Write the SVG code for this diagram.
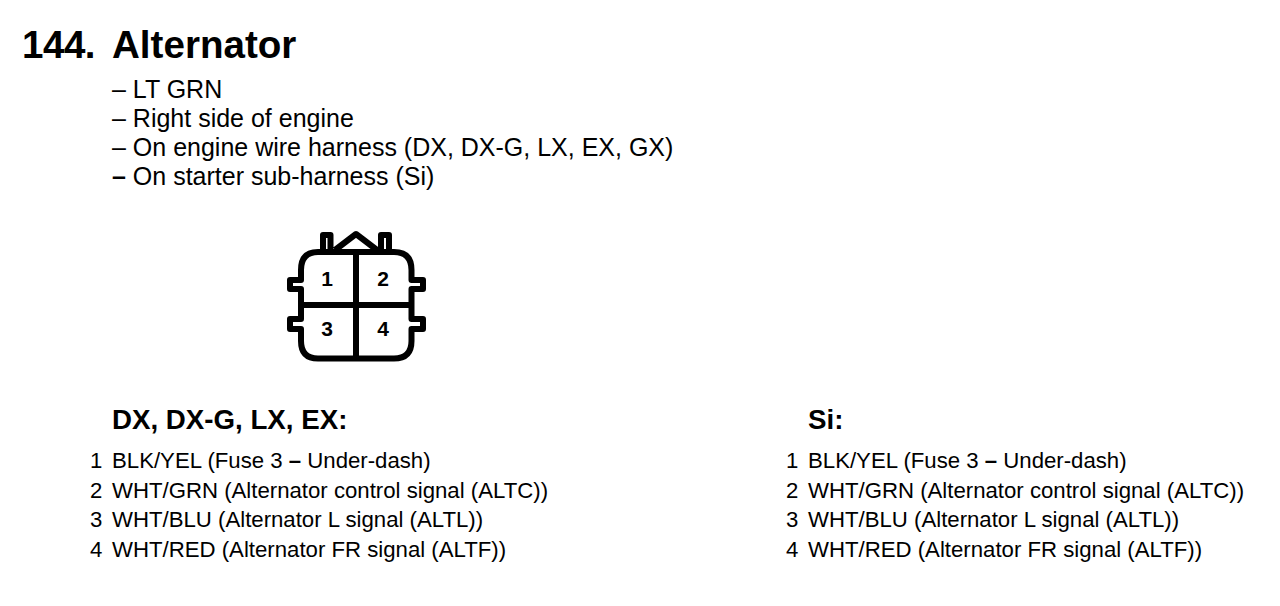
<svg xmlns="http://www.w3.org/2000/svg" width="1280" height="606" viewBox="0 0 1280 606">
<style>
text{font-family:"Liberation Sans",Arial,sans-serif;fill:#000}
.t{font-size:25px}
.h{font-size:38.6px;font-weight:bold}
.s{font-size:27.7px;font-weight:bold}
.n{font-size:21px;font-weight:bold}
.l{font-size:22.2px}
.b{font-weight:bold}
.c{fill:none;stroke:#000;stroke-width:6;stroke-linejoin:round}
</style>
<rect width="1280" height="606" fill="#fff"/>
<text class="h" x="22" y="58" letter-spacing="-0.5">144.</text><text class="h" x="112" y="58">Alternator</text>
<text class="t" x="112" y="98">– LT GRN</text>
<text class="t" x="112" y="127">– Right side of engine</text>
<text class="t" x="112" y="156">– On engine wire harness (DX, DX-G, LX, EX, GX)</text>
<text class="t" x="112" y="185"><tspan class="b">–</tspan> On starter sub-harness (Si)</text>
<g id="connector">
<path class="c" d="M318 252H394Q411.500 252 411.500 270V280H423V289H411.500V319H423V329H411.500V341Q411.500 358.500 394 358.500H318Q301 358.500 301 341V329H290V319H301V289H290V280H301V270Q301 252 318 252Z"/>
<path class="c" d="M323 250V235H330.500V250M381 250V235H389V250M335 250L356 234L377 250M356 252V358M301 305H411"/>
<text class="n" x="327" y="286" text-anchor="middle">1</text>
<text class="n" x="383" y="286" text-anchor="middle">2</text>
<text class="n" x="327" y="336" text-anchor="middle">3</text>
<text class="n" x="383" y="336" text-anchor="middle">4</text>
</g>
<text class="s" x="112" y="429">DX, DX-G, LX, EX:</text>
<text class="s" x="808" y="429">Si:</text>
<g>
<text class="l" x="90" y="468">1</text><text class="l" x="112" y="468">BLK/YEL (Fuse 3 <tspan class="b">–</tspan> Under-dash)</text>
<text class="l" x="90" y="498">2</text><text class="l" x="112" y="498">WHT/GRN (Alternator control signal (ALTC))</text>
<text class="l" x="90" y="527">3</text><text class="l" x="112" y="527">WHT/BLU (Alternator L signal (ALTL))</text>
<text class="l" x="90" y="557">4</text><text class="l" x="112" y="557">WHT/RED (Alternator FR signal (ALTF))</text>
<text class="l" x="786" y="468">1</text><text class="l" x="808" y="468">BLK/YEL (Fuse 3 <tspan class="b">–</tspan> Under-dash)</text>
<text class="l" x="786" y="498">2</text><text class="l" x="808" y="498">WHT/GRN (Alternator control signal (ALTC))</text>
<text class="l" x="786" y="527">3</text><text class="l" x="808" y="527">WHT/BLU (Alternator L signal (ALTL))</text>
<text class="l" x="786" y="557">4</text><text class="l" x="808" y="557">WHT/RED (Alternator FR signal (ALTF))</text>
</g>
</svg>
